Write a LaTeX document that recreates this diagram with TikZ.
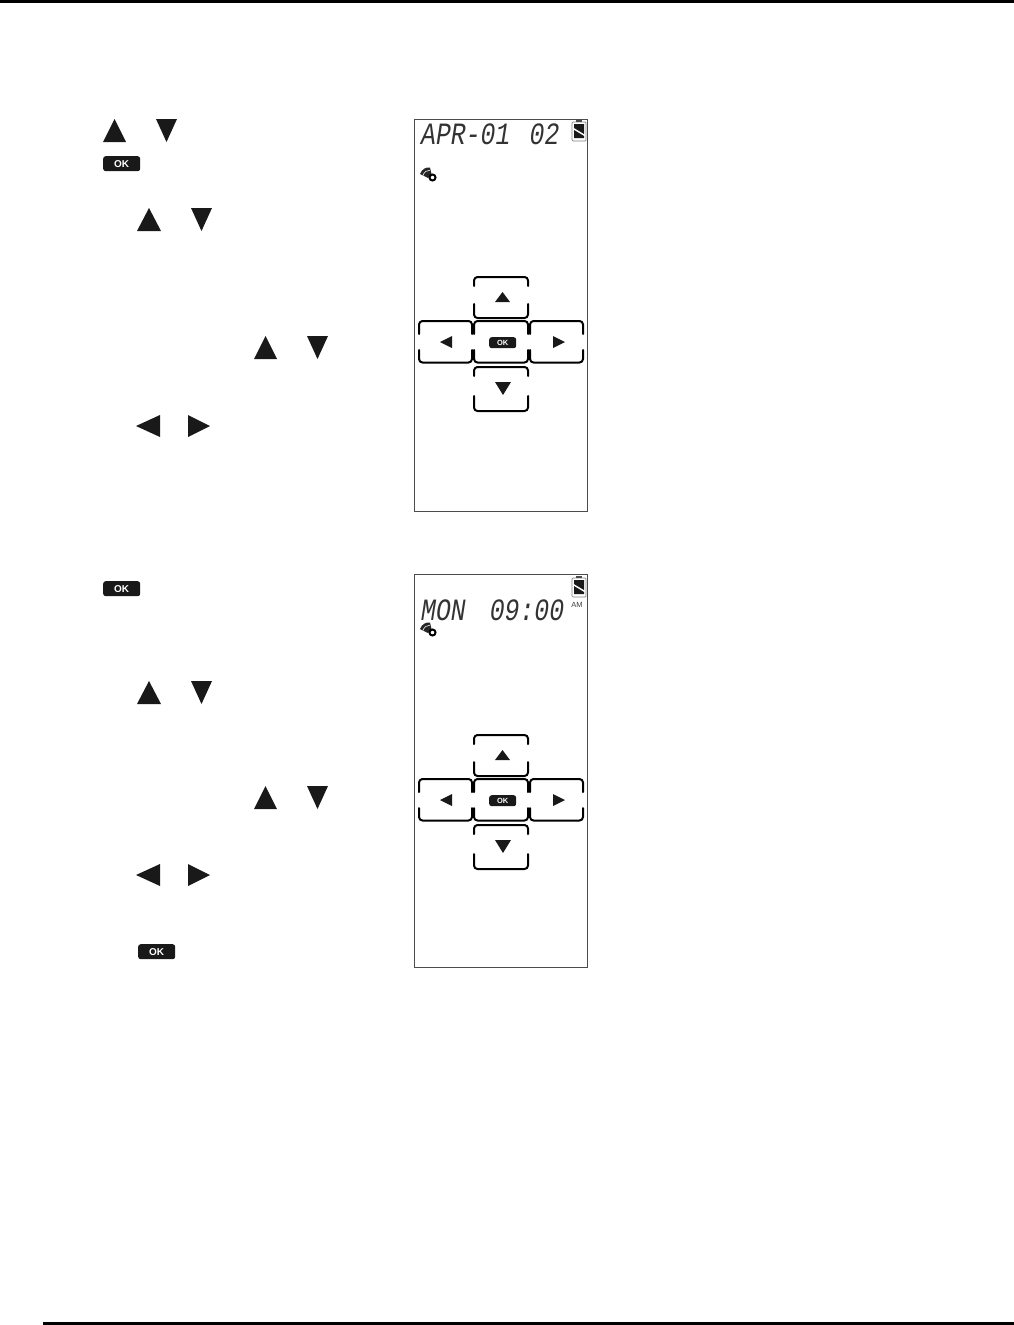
\documentclass[tikz,border=0pt]{standalone}
\usepackage{fontspec}
\setmainfont{Liberation Sans}
\newfontfamily\lcdfont{Liberation Mono}[ItalicFont=* Italic]
\tikzset{
  frameline/.style={draw=black!70,line width=1pt},
  keyline/.style={draw=black,line width=2pt,line cap=round,line join=round},
  rulebar/.style={draw=black,line width=3pt},
  lcdtext/.style={inner sep=0pt,font=\lcdfont\itshape\fontsize{31}{31}\selectfont,text=black!80,xscale=0.80,anchor=west},
  oktext/.style={inner sep=0pt,text=white,font=\bfseries}
}
% triangles: left x, right x, top y, bottom y
\newcommand{\glyphup}[4]{\fill[black!90] (#1,#4) -- ({(#1+#2)/2},#3) -- (#2,#4) -- cycle;}
\newcommand{\glyphdn}[4]{\fill[black!90] (#1,#3) -- ({(#1+#2)/2},#4) -- (#2,#3) -- cycle;}
\newcommand{\glyphlt}[4]{\fill[black!90] (#1,{(#3+#4)/2}) -- (#2,#3) -- (#2,#4) -- cycle;}
\newcommand{\glyphrt}[4]{\fill[black!90] (#2,{(#3+#4)/2}) -- (#1,#3) -- (#1,#4) -- cycle;}
% OK badge: name, left x, top y, width, height, font size
\newcommand{\okbadge}[6]{\node[fill=black!90,rounded corners=2.5pt,minimum width=#4pt,minimum height=#5pt,inner sep=0pt,anchor=north west] (#1) at (#2,#3) {};
  \node[oktext,font=\bfseries\fontsize{#6}{#6}\selectfont] at (#1.center) {OK};}
% keypad outline: left, right, top, bottom, gap top, gap bottom
\newcommand{\keyoutline}[6]{\draw[keyline,rounded corners=3.5pt] (#1,#5) -- (#1,#3) -- (#2,#3) -- (#2,#5);
  \draw[keyline,rounded corners=3.5pt] (#1,#6) -- (#1,#4) -- (#2,#4) -- (#2,#6);}
\newcommand{\keypad}[1]{\begin{scope}[yshift=-#1pt]
  \keyoutline{474}{528}{277}{318}{286}{304}
  \keyoutline{419}{472}{321}{362.5}{334}{350}
  \keyoutline{474}{528}{321}{362.5}{334}{350}
  \keyoutline{530}{583}{321}{362.5}{334}{350}
  \keyoutline{474}{528}{367}{411}{376}{396}
  \glyphup{495}{510}{292}{302}
  \glyphlt{440}{452}{336}{348}
  \glyphrt{553}{565}{336}{348}
  \glyphdn{495}{511}{382}{395}
\end{scope}}
\newcommand{\batteryicon}[2]{\draw[black!50,line width=0.7pt,rounded corners=1pt] (#1,#2+3) rectangle (#1+14,#2+22);
  \fill[black!70] (#1+4,#2+1) rectangle (#1+10,#2+3);
  \fill[black!90] (#1+2,#2+5) -- (#1+12,#2+5) -- (#1+12,#2+15) -- (#1+2,#2+9) -- cycle;
  \fill[black!90] (#1+2,#2+11) -- (#1+12,#2+17) -- (#1+12,#2+19) -- (#1+2,#2+19) -- cycle;}
\newcommand{\signalicon}[2]{\begin{scope}[shift={(#1,#2)}]
  \fill[black!85] (0,7) .. controls (2,2) and (6,0) .. (10,0.5) -- (11.5,7) -- (8,11) -- cycle;
  \draw[white,line width=0.6pt] (3,8.5) .. controls (4,5) and (7,3) .. (10,3.2);
  \draw[black,line width=2pt] (12.5,10.5) circle[radius=3pt];
  \end{scope}}
\begin{document}
\begin{tikzpicture}[x=1pt,y=-1pt]
\useasboundingbox (0,0) rectangle (1014,1325);
\fill[white] (0,0) rectangle (1014,1325);
\coordinate (ruleTopL) at (0,1);
\coordinate (ruleTopR) at (1014,1);
\coordinate (ruleBotL) at (43,1323.5);
\coordinate (ruleBotR) at (1014,1323.5);
\draw[rulebar] (ruleTopL) -- (ruleTopR);
\draw[rulebar] (ruleBotL) -- (ruleBotR);
% left column, first block
\glyphup{103}{126}{119}{142}
\glyphdn{156}{177}{119}{142}
\okbadge{okA}{103}{156}{37}{15}{10}
\glyphup{137}{161}{208}{231}
\glyphdn{191}{212}{208}{231}
\glyphup{254}{277}{336}{359}
\glyphdn{307}{328}{336}{359}
\glyphlt{136}{160}{415}{437}
\glyphrt{188}{210}{415}{437}
% left column, second block
\okbadge{okB}{103}{581}{37}{15}{10}
\glyphup{137}{161}{681}{704}
\glyphdn{191}{212}{681}{704}
\glyphup{254}{277}{786}{809}
\glyphdn{307}{328}{786}{809}
\glyphlt{136}{160}{864}{886}
\glyphrt{188}{210}{864}{886}
\okbadge{okC}{138}{944}{37}{15}{10}
% panel 1
\node[frameline,minimum width=173.5pt,minimum height=392pt,inner sep=0pt,anchor=north west] (panelA) at (413.5,119) {};
\node[lcdtext] (lcdA) at (421,134) {APR-01\hspace{24pt}02};
\batteryicon{572}{119}
\signalicon{420}{167}
\keypad{0}
\okbadge{okD}{489}{337}{27}{11}{7.5}
% panel 2
\node[frameline,minimum width=173.5pt,minimum height=393pt,inner sep=0pt,anchor=north west] (panelB) at (413.5,574) {};
\node[lcdtext] (lcdB) at (421,610) {MON\hspace{30pt}09:00};
\batteryicon{572}{575}
\node[inner sep=0pt,font=\fontsize{7.5}{7.5}\selectfont,text=black!75] (amB) at (577,605) {AM};
\signalicon{420}{622}
\keypad{458}
\okbadge{okE}{489}{795}{27}{11}{7.5}
\end{tikzpicture}
\end{document}
